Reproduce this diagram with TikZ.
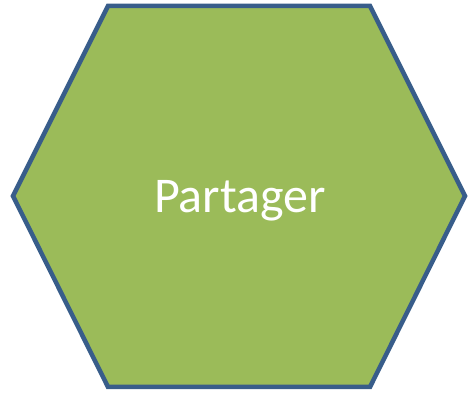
\documentclass[tikz,border=0pt]{standalone}
\usepackage{fontspec}
\setmainfont{Carlito}
\usepackage{tikz}

\definecolor{hexfill}{HTML}{9BBB59}
\definecolor{hexline}{HTML}{385D8A}

\tikzset{
  hexagon/.style={fill=hexfill, draw=hexline, line width=4.5pt, line join=miter},
  hexlabel/.style={text=white, font=\fontsize{50}{60}\selectfont, inner sep=0pt}
}

\begin{document}
\begin{tikzpicture}[x=1pt, y=1pt]
    \useasboundingbox (0,0) rectangle (469,393);

    % Hexagon
    \draw[hexagon] (13,197) -- (108,387) -- (370,387) -- (465,197)
        -- (370,6) -- (108,6) -- cycle;

    % Label
    \node[hexlabel, anchor=base] (partager) at (240,180) {Partager};
\end{tikzpicture}
\end{document}
